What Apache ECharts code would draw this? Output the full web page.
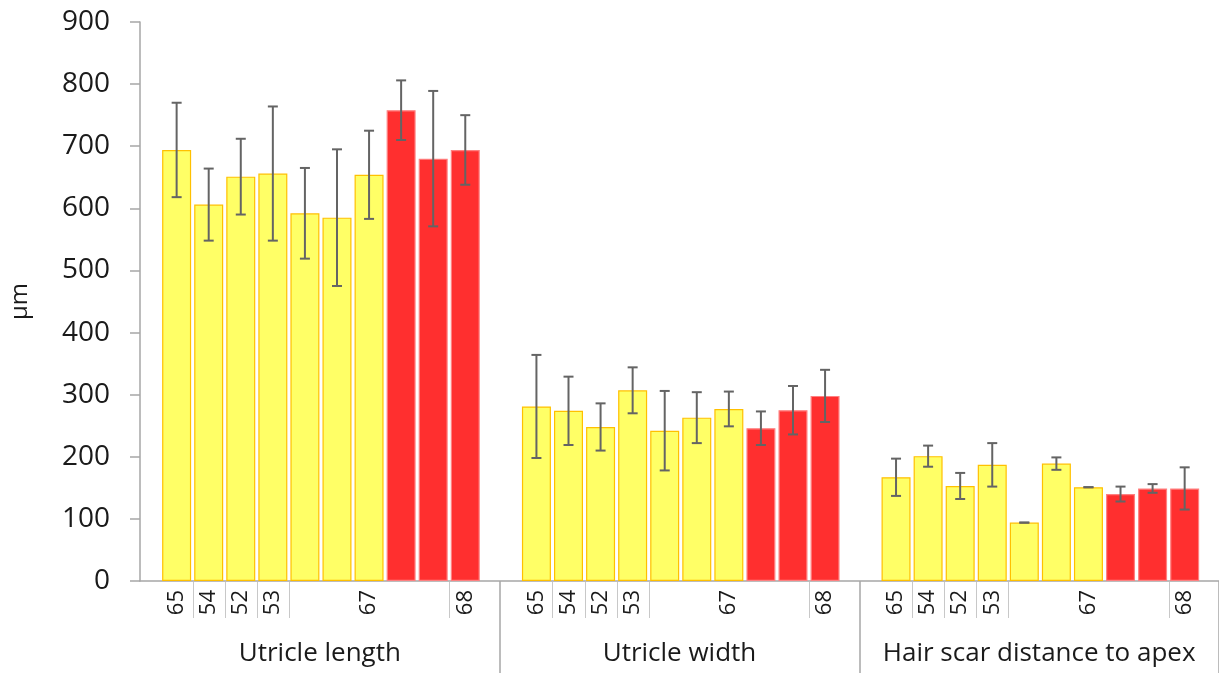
<!DOCTYPE html>
<html>
<head>
<meta charset="utf-8">
<script src="https://cdn.jsdelivr.net/npm/echarts@6/dist/echarts.min.js"></script>
<style>html,body{margin:0;padding:0;background:#fff}#c{width:1219px;height:673px}</style>
</head>
<body>
<div id="c"></div>
<script>
// ---- data ----
const groupNames = ['Utricle length', 'Utricle width', 'Hair scar distance to apex'];
const barSlots = ['s1', 's2', 's3', 's4', 's5', 's6', 's7', 's8', 's9', 's10'];
const sampleLabels = ['65', '54', '52', '53', '', '', '67', '', '', '68'];
const sampleBoundaries = [1, 2, 3, 4, 9];
const isRed = [0, 0, 0, 0, 0, 0, 0, 1, 1, 1];
const lengthMean = [694, 606, 651, 656, 592, 585, 654, 758, 680, 694];
const lengthErr = [76, 58, 61, 108, 73, 110, 71, 48, 109, 56];
const widthMean = [281, 274, 248, 307, 242, 263, 277, 246, 275, 298];
const widthErr = [83, 55, 38, 37, 64, 41, 28, 27, 39, 42];
const scarMean = [167, 201, 153, 187, 94, 189, 151, 140, 149, 149];
const scarErr = [30, 17, 21, 35, 0, 10, 0, 12, 7, 34];
const yTicks = [0, 100, 200, 300, 400, 500, 600, 700, 800, 900];

const groupMeans = [lengthMean, widthMean, scarMean];
const groupErrs = [lengthErr, widthErr, scarErr];

const FONT = '"Open Sans", "Noto Sans", sans-serif';
const AXIS_GREY = '#A6A6A6';
const YELLOW = '#FFFF66', YELLOW_BORDER = '#FFC000';
const RED = '#FF2F2F', RED_BORDER = '#FF8080';

const chart = echarts.init(document.getElementById('c'), null, {renderer: 'canvas'});

const grids = [{left: 140, top: 22, width: 1079, bottom: 92, containLabel: false, outerBoundsMode: 'none'}];
const xAxes = [{
  gridIndex: 0, type: 'category', data: groupNames,
  axisLine: {show: true, lineStyle: {color: AXIS_GREY, width: 1.5}},
  axisTick: {show: true, length: 92, interval: function (idx) { return idx > 0; },
             lineStyle: {color: AXIS_GREY, width: 1.5}},
  axisLabel: {interval: 0, margin: 60, fontSize: 26, color: '#1a1a1a', fontFamily: FONT}
}];
const yAxes = [{
  gridIndex: 0, type: 'value', min: yTicks[0], max: yTicks[yTicks.length - 1], interval: 100,
  name: 'μm', nameLocation: 'middle', nameRotate: 90, nameGap: 108,
  nameTextStyle: {fontSize: 24, color: '#1a1a1a', fontFamily: FONT},
  axisLine: {show: true, lineStyle: {color: AXIS_GREY, width: 1.5}},
  axisTick: {show: true, length: 10, lineStyle: {color: AXIS_GREY, width: 1.5}},
  splitLine: {show: false},
  axisLabel: {margin: 30, fontSize: 28, color: '#1a1a1a', fontFamily: FONT}
}];
const series = [];
const innerLefts = [160.6, 520.4, 880.0];

groupNames.forEach(function (g, gi) {
  const gIdx = gi + 1;
  grids.push({left: innerLefts[gi], top: 22, width: 320.7, bottom: 92, containLabel: false, outerBoundsMode: 'none'});
  xAxes.push({
    gridIndex: gIdx, type: 'category', data: barSlots,
    axisLine: {show: false}, axisTick: {show: false},
    axisLabel: {interval: 0, rotate: 90, margin: 9, fontSize: 22, color: '#1a1a1a', fontFamily: FONT,
                formatter: function (v, i) { return sampleLabels[i]; }}
  });
  yAxes.push({gridIndex: gIdx, type: 'value', min: 0, max: 900, interval: 100, show: false});

  const means = groupMeans[gi], errs = groupErrs[gi];
  series.push({
    type: 'bar', xAxisIndex: gIdx, yAxisIndex: gIdx, barWidth: 29,
    data: means.map(function (v, i) {
      return {value: v, itemStyle: {
        color: isRed[i] ? RED : YELLOW,
        borderColor: isRed[i] ? RED_BORDER : YELLOW_BORDER, borderWidth: 1.2}};
    }),
    z: 2
  });
  series.push({
    type: 'custom', xAxisIndex: gIdx, yAxisIndex: gIdx, z: 5,
    data: means.map(function (v, i) { return [i, v - errs[i], v + errs[i]]; }),
    encode: {x: 0, y: [1, 2]},
    renderItem: function (params, api) {
      const i = api.value(0);
      const lo = api.coord([i, api.value(1)]);
      const hi = api.coord([i, api.value(2)]);
      const w = 5;
      const st = {stroke: '#646464', lineWidth: 2};
      return {type: 'group', children: [
        {type: 'line', shape: {x1: hi[0], y1: hi[1], x2: lo[0], y2: lo[1]}, style: st},
        {type: 'line', shape: {x1: hi[0] - w, y1: hi[1], x2: hi[0] + w, y2: hi[1]}, style: st},
        {type: 'line', shape: {x1: lo[0] - w, y1: lo[1], x2: lo[0] + w, y2: lo[1]}, style: st}
      ]};
    }
  });
  series.push({
    type: 'custom', xAxisIndex: gIdx, yAxisIndex: gIdx, z: 1, clip: false, silent: true,
    data: sampleBoundaries.map(function (b) { return [b, 0]; }),
    encode: {x: 0, y: 1},
    renderItem: function (params, api) {
      const c = api.coord([api.value(0), 0]);
      const bw = api.size([1, 0])[0];
      const x = Math.round(c[0] - bw / 2) + 0.5;
      return {type: 'line', shape: {x1: x, y1: c[1] + 1, x2: x, y2: c[1] + 37},
              style: {stroke: '#C8C8C8', lineWidth: 1}};
    }
  });
});

chart.setOption({
  animation: false,
  backgroundColor: '#ffffff',
  grid: grids,
  xAxis: xAxes,
  yAxis: yAxes,
  series: series
});
</script>
</body>
</html>
